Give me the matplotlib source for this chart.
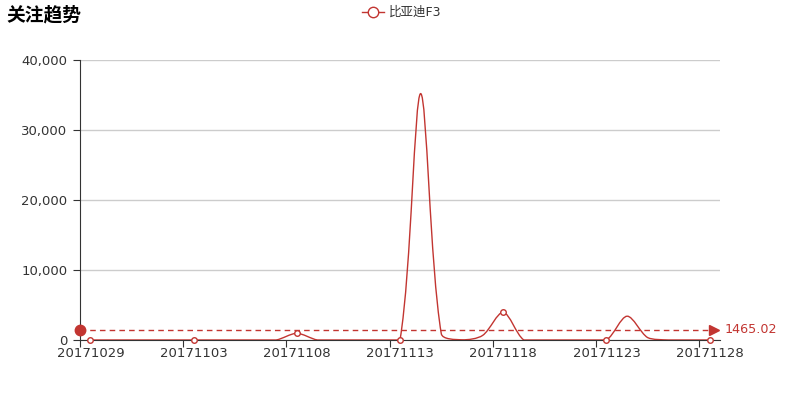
import numpy as np
import matplotlib
matplotlib.use('Agg')
import matplotlib.pyplot as plt
from matplotlib.path import Path
from matplotlib.patches import PathPatch

plt.rcParams['font.family'] = ['DejaVu Sans', 'Noto Sans CJK SC']

# 数据
dates = ['20171029', '20171030', '20171031', '20171101', '20171102', '20171103',
         '20171104', '20171105', '20171106', '20171107', '20171108', '20171109',
         '20171110', '20171111', '20171112', '20171113', '20171114', '20171115',
         '20171116', '20171117', '20171118', '20171119', '20171120', '20171121',
         '20171122', '20171123', '20171124', '20171125', '20171126', '20171127',
         '20171128']
values = [0, 0, 0, 0, 0, 0, 0, 0, 0, 0, 950, 0, 0, 0, 0, 0, 35200, 900, 30, 650,
          3950, 0, 0, 0, 0, 0, 3400, 335.62, 0, 0, 0]
series_name = '比亚迪F3'
title = '关注趋势'

red = '#c23531'
text_c = '#333333'
smooth = 0.3

fig = plt.figure(figsize=(8, 4), dpi=100)
ax = fig.add_axes([0.1, 0.15, 0.8, 0.7])
n = len(dates)
ax.set_xlim(-0.5, n - 0.5)
ax.set_ylim(0, 40000)

# 平滑曲线，在像素比例空间中计算贝塞尔控制点
sx = 640.0 / n
sy = 280.0 / 40000
pts = np.column_stack([np.arange(n) * sx, np.array(values, float) * sy])
lo, hi = pts.min(axis=0), pts.max(axis=0)
cps = []
for i in range(n):
    cur = pts[i]
    prev = pts[i - 1] if i > 0 else cur
    nxt = pts[i + 1] if i < n - 1 else cur
    v = (nxt - prev) * smooth
    d0 = np.hypot(*(cur - prev))
    d1 = np.hypot(*(cur - nxt))
    s = d0 + d1
    if s > 0:
        d0, d1 = d0 / s, d1 / s
    c0 = np.clip(cur - v * d0, lo, hi)
    c1 = np.clip(cur + v * d1, lo, hi)
    cps.append((c0, c1))
verts = [pts[0]]
codes = [Path.MOVETO]
for i in range(n - 1):
    verts += [cps[i][1], cps[i + 1][0], pts[i + 1]]
    codes += [Path.CURVE4] * 3
verts = np.array(verts) / np.array([sx, sy])
ax.add_patch(PathPatch(Path(verts, codes), fill=False, edgecolor=red, lw=1, zorder=3))

idx = np.arange(0, n, 5)
ax.plot(idx, np.array(values)[idx], ls='none', marker='o', ms=4, mfc='white',
        mec=red, mew=1, zorder=4, clip_on=False)

# 平均线
avg = np.mean(values)
ax.plot([-0.5, n - 0.9], [avg, avg], color=red, lw=1, dashes=(4, 3), zorder=2,
        clip_on=False)
ax.plot([-0.5], [avg], marker='o', ms=7.5, color=red, clip_on=False, zorder=5)
ax.plot([n - 0.8], [avg], marker='>', ms=7, color=red, mec=red, clip_on=False, zorder=5)
ax.text(n - 0.3, avg, f'{avg:.2f}', color=red, fontsize=9.2, va='center', ha='left')

# 坐标轴
ax.set_yticks([0, 10000, 20000, 30000, 40000])
ax.set_yticklabels(['0', '10,000', '20,000', '30,000', '40,000'])
ax.grid(axis='y', color='#cccccc', lw=1)
ax.set_axisbelow(True)
ax.set_xticks(np.arange(-0.5, n - 1, 5))
ax.set_xticklabels([])
ax.set_xticks(idx, minor=True)
ax.set_xticklabels([dates[i] for i in idx], minor=True)
ax.tick_params(axis='x', which='minor', length=0, pad=5, labelsize=9.5, colors=text_c)
ax.tick_params(axis='x', which='major', length=5, color=text_c)
ax.tick_params(axis='y', length=5, labelsize=9.5, colors=text_c, pad=4)
for side in ['top', 'right']:
    ax.spines[side].set_visible(False)
ax.spines['left'].set_color(text_c)
ax.spines['bottom'].set_color(text_c)

# 标题和图例
fig.text(6 / 800, 1 - 15 / 400, title, fontsize=13.5, fontweight='bold', va='center',
         ha='left', color='#000000')
fig.add_artist(plt.Line2D([362 / 800, 384 / 800], [1 - 12 / 400] * 2, color=red, lw=1,
                          transform=fig.transFigure))
fig.add_artist(plt.Line2D([373 / 800], [1 - 12 / 400], marker='o', ms=7.5, mfc='white',
                          mec=red, mew=1, transform=fig.transFigure))
fig.text(389 / 800, 1 - 12 / 400, series_name, fontsize=9, va='center', ha='left',
         color=text_c)

fig.savefig('out.png', dpi=100)
